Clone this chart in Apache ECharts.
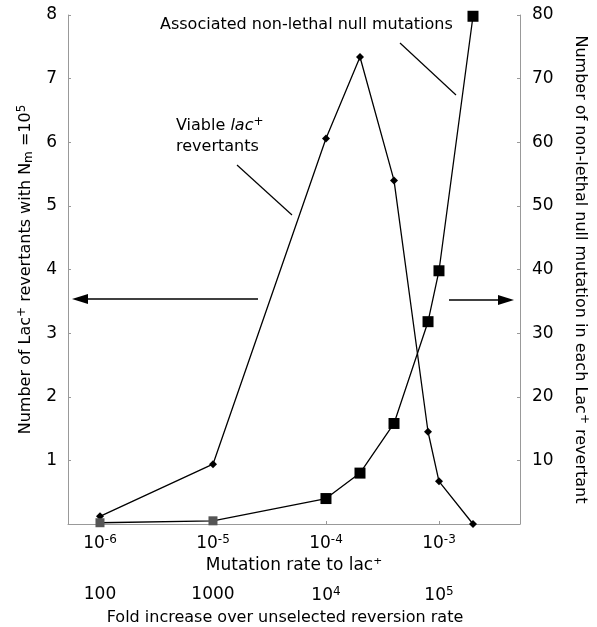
<!DOCTYPE html>
<html>
<head>
<meta charset="utf-8">
<script src="https://cdn.jsdelivr.net/npm/echarts@6/dist/echarts.min.js"></script>
<style>
  html, body { margin: 0; padding: 0; background: #fff; }
  #chart { width: 597px; height: 627px; }
</style>
</head>
<body>
<div id="chart"></div>
<script>
// mutation rates to lac+ (x)
const rates = [1e-6, 1e-5, 1e-4, 2e-4, 4e-4, 8e-4, 1e-3, 2e-3];
// viable lac+ revertants (left axis)
const viable = [0.12, 0.94, 6.06, 7.34, 5.40, 1.45, 0.67, 0.0];
// non-lethal null mutations per revertant (right axis)
const nullMut = [0.2, 0.5, 4.0, 8.0, 15.8, 31.8, 39.8, 79.8];
// fold increase = rate / unselected rate
const FOLD = 1e8;

const FONT = 'DejaVu Sans';
const supStyle = { fontSize: 12, verticalAlign: 'bottom', padding: [0, 0, 8, 0], fontFamily: FONT, color: '#000' };

function expOf(v) {
  const e = Math.log10(v);
  return Math.abs(e - Math.round(e)) < 1e-6 ? Math.round(e) : null;
}

const chart = echarts.init(document.getElementById('chart'));

chart.setOption({
  animation: false,
  backgroundColor: '#fff',
  textStyle: { fontFamily: FONT, color: '#000' },
  grid: { left: 68, right: 77, top: 15, bottom: 103, outerBoundsMode: 'none' },
  xAxis: [
    {
      type: 'log', logBase: 10,
      min: Math.pow(10, -6.283), max: Math.pow(10, -2.283),
      name: 'Mutation rate to lac\u207A',
      nameLocation: 'middle', nameGap: 33,
      nameTextStyle: { fontSize: 17, fontFamily: FONT, color: '#000' },
      axisLine: { lineStyle: { color: '#999', width: 1 } },
      axisTick: { show: true, inside: true, length: 3, lineStyle: { color: '#999' } },
      splitLine: { show: false },
      minorTick: { show: false },
      axisLabel: {
        margin: 10, fontSize: 17, color: '#000', fontFamily: FONT,
        formatter: v => { const e = expOf(v); return e === null ? '' : '10{s|' + e + '}'; },
        rich: { s: supStyle }
      }
    },
    {
      type: 'log', logBase: 10, position: 'bottom', offset: 56,
      min: Math.pow(10, -6.283) * FOLD, max: Math.pow(10, -2.283) * FOLD,
      name: 'Fold increase over unselected reversion rate',
      nameLocation: 'middle', nameGap: 29,
      nameTextStyle: { fontSize: 16, fontFamily: FONT, color: '#000', padding: [0, 18, 0, 0] },
      axisLine: { show: false },
      axisTick: { show: false },
      splitLine: { show: false },
      axisLabel: {
        margin: 6, fontSize: 17, color: '#000', fontFamily: FONT,
        formatter: v => {
          const e = expOf(v);
          if (e === null) return '';
          return e <= 3 ? String(Math.pow(10, e)) : '10{s|' + e + '}';
        },
        rich: { s: supStyle }
      }
    }
  ],
  yAxis: [
    {
      type: 'value', min: 0, max: 8, interval: 1, position: 'left',
      name: '{a|Number of Lac}{s|+}{a| revertants with N}{b|m}{a| =10}{s|5}',
      nameLocation: 'middle', nameGap: 32, nameRotate: 90,
      nameTextStyle: {
        rich: {
          a: { fontSize: 16, fontFamily: FONT, color: '#000' },
          s: { fontSize: 12, fontFamily: FONT, color: '#000', verticalAlign: 'bottom', padding: [0, 0, 8, 0] },
          b: { fontSize: 12, fontFamily: FONT, color: '#000', verticalAlign: 'top', padding: [7, 0, 0, 0] }
        }
      },
      axisLine: { show: true, lineStyle: { color: '#999', width: 1 } },
      axisTick: { show: true, inside: true, length: 3, lineStyle: { color: '#999' } },
      splitLine: { show: false },
      axisLabel: { showMinLabel: false, margin: 11, fontSize: 17, color: '#000', fontFamily: FONT }
    },
    {
      type: 'value', min: 0, max: 80, interval: 10, position: 'right',
      name: '{a|Number of non-lethal null mutation in each Lac}{s|+}{a| revertant}',
      nameLocation: 'middle', nameGap: 50, nameRotate: -90,
      nameTextStyle: {
        rich: {
          a: { fontSize: 16, fontFamily: FONT, color: '#000' },
          s: { fontSize: 12, fontFamily: FONT, color: '#000', verticalAlign: 'bottom', padding: [0, 0, 8, 0] }
        }
      },
      axisLine: { show: true, lineStyle: { color: '#999', width: 1 } },
      axisTick: { show: true, inside: true, length: 3, lineStyle: { color: '#999' } },
      splitLine: { show: false },
      axisLabel: { showMinLabel: false, margin: 12, fontSize: 17, color: '#000', fontFamily: FONT }
    }
  ],
  series: [
    {
      name: 'Viable lac+ revertants',
      type: 'line', xAxisIndex: 0, yAxisIndex: 0,
      data: rates.map((r, i) => [r, viable[i]]),
      symbol: 'diamond', symbolSize: 8,
      lineStyle: { color: '#000', width: 1.3 },
      itemStyle: { color: '#000' }
    },
    {
      name: 'Associated non-lethal null mutations',
      type: 'line', xAxisIndex: 0, yAxisIndex: 1,
      data: rates.map((r, i) => [r, nullMut[i]]),
      symbol: 'rect',
      symbolSize: (v, p) => (p.dataIndex < 2 ? 9 : 11),
      lineStyle: { color: '#000', width: 1.3 },
      itemStyle: { color: p => (p.dataIndex < 2 ? '#555' : '#000') }
    }
  ],
  graphic: [
    { type: 'text', left: 160, top: 17, style: { text: 'Associated non-lethal null mutations', font: '16px "DejaVu Sans"', fill: '#000' } },
    { type: 'line', shape: { x1: 400, y1: 43, x2: 456, y2: 95 }, style: { stroke: '#000', lineWidth: 1.2 } },
    {
      type: 'text', left: 176, top: 116,
      style: {
        text: '{n|Viable }{i|lac}{s|+}\n{n|revertants}',
        rich: {
          n: { font: '16px "DejaVu Sans"', fill: '#000', lineHeight: 21 },
          i: { font: 'italic 16px "DejaVu Sans"', fill: '#000', lineHeight: 21 },
          s: { font: '12px "DejaVu Sans"', fill: '#000', verticalAlign: 'bottom', padding: [0, 0, 8, 0] }
        }
      }
    },
    { type: 'line', shape: { x1: 237, y1: 165, x2: 292, y2: 215 }, style: { stroke: '#000', lineWidth: 1.2 } },
    // left arrow
    { type: 'line', shape: { x1: 258, y1: 299, x2: 84, y2: 299 }, style: { stroke: '#000', lineWidth: 1.5 } },
    { type: 'polygon', shape: { points: [[72, 299], [88, 294], [88, 304]] }, style: { fill: '#000' } },
    // right arrow
    { type: 'line', shape: { x1: 449, y1: 300, x2: 502, y2: 300 }, style: { stroke: '#000', lineWidth: 1.5 } },
    { type: 'polygon', shape: { points: [[514, 300], [498, 295], [498, 305]] }, style: { fill: '#000' } }
  ]
});
</script>
</body>
</html>
